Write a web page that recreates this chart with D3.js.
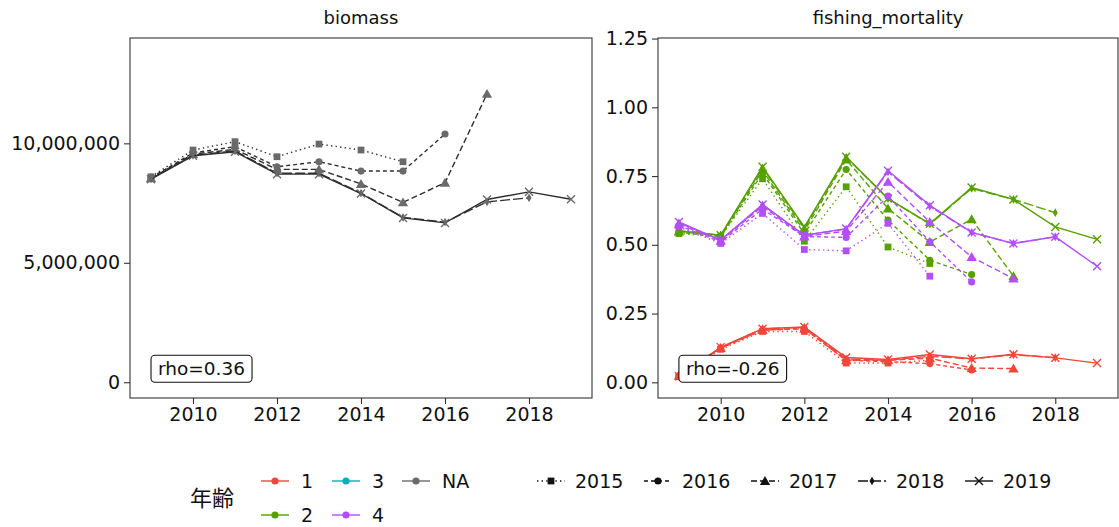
<!DOCTYPE html>
<html>
<head>
<meta charset="utf-8">
<script src="https://cdn.jsdelivr.net/npm/d3@7"></script>
<style>
  html, body { margin: 0; padding: 0; background: #fff; }
  svg text { font-family: "DejaVu Sans", sans-serif; fill: #111; }
</style>
</head>
<body>
<svg id="chart" width="1119" height="527"></svg>
<script>
// ---- data -------------------------------------------------------------
const years = [2009, 2010, 2011, 2012, 2013, 2014, 2015, 2016, 2017, 2018, 2019];
const terminalYears = [2015, 2016, 2017, 2018, 2019];
const ageLevels = ["1", "2", "3", "4", "NA"];
const panelTitles = ["biomass", "fishing_mortality"];
const xTicks = [2010, 2012, 2014, 2016, 2018];
const biomassTicks = [0, 5000000, 10000000];
const fTicks = [0, 0.25, 0.5, 0.75, 1.0, 1.25];
const rhoLabels = ["rho=0.36", "rho=-0.26"];

// biomass by terminal year (starting 2009)
const biomass2015 = [8600000, 9720000, 10070000, 9440000, 9970000, 9720000, 9230000];
const biomass2016 = [8560000, 9600000, 9860000, 9020000, 9230000, 8840000, 8840000, 10390000];
const biomass2017 = [8540000, 9550000, 9750000, 8910000, 8910000, 8300000, 7530000, 8350000, 12070000];
const biomass2018 = [8510000, 9500000, 9680000, 8750000, 8750000, 7920000, 6900000, 6700000, 7550000, 7720000];
const biomass2019 = [8500000, 9480000, 9650000, 8710000, 8710000, 7900000, 6880000, 6670000, 7650000, 7970000, 7660000];

// fishing mortality, age 1
const fAge1_2015 = [0.020, 0.120, 0.185, 0.185, 0.070, 0.070, 0.080];
const fAge1_2016 = [0.025, 0.125, 0.190, 0.195, 0.080, 0.075, 0.068, 0.045];
const fAge1_2017 = [0.025, 0.125, 0.190, 0.195, 0.080, 0.080, 0.088, 0.052, 0.050];
const fAge1_2018 = [0.025, 0.125, 0.195, 0.200, 0.085, 0.080, 0.095, 0.085, 0.100, 0.090];
const fAge1_2019 = [0.022, 0.128, 0.195, 0.201, 0.090, 0.083, 0.101, 0.086, 0.102, 0.089, 0.070];

// fishing mortality, age 2
const fAge2_2015 = [0.541, 0.530, 0.740, 0.513, 0.711, 0.492, 0.432];
const fAge2_2016 = [0.545, 0.530, 0.760, 0.540, 0.774, 0.590, 0.444, 0.392];
const fAge2_2017 = [0.548, 0.533, 0.770, 0.550, 0.810, 0.632, 0.510, 0.593, 0.386];
const fAge2_2018 = [0.550, 0.535, 0.780, 0.560, 0.818, 0.668, 0.575, 0.705, 0.665, 0.617];
const fAge2_2019 = [0.551, 0.535, 0.784, 0.565, 0.820, 0.668, 0.577, 0.708, 0.665, 0.565, 0.520];

// fishing mortality, age 3 (no estimates)
const fAge3_2015 = [];
const fAge3_2016 = [];
const fAge3_2017 = [];
const fAge3_2018 = [];
const fAge3_2019 = [];

// fishing mortality, age 4
const fAge4_2015 = [0.565, 0.505, 0.614, 0.483, 0.478, 0.578, 0.386];
const fAge4_2016 = [0.570, 0.510, 0.630, 0.530, 0.527, 0.677, 0.511, 0.365];
const fAge4_2017 = [0.575, 0.515, 0.640, 0.530, 0.550, 0.729, 0.583, 0.456, 0.377];
const fAge4_2018 = [0.580, 0.517, 0.645, 0.535, 0.557, 0.765, 0.640, 0.545, 0.505, 0.529];
const fAge4_2019 = [0.583, 0.517, 0.647, 0.535, 0.559, 0.769, 0.644, 0.545, 0.505, 0.529, 0.422];

// ---- styling ------------------------------------------------------------
const ageColor = { "1": "#f3463b", "2": "#56a000", "3": "#00b3b9", "4": "#b34efb", "NA": "#6a6a6a" };
const biomassLine = "#2e2e2e";
const dashFor = { 2015: "1.4,3.2", 2016: "4,3", 2017: "6,3", 2018: "10,3", 2019: null };
const shapeFor = { 2015: "square", 2016: "circle", 2017: "triangle", 2018: "diamond", 2019: "cross" };
const tickFont = 19;

const svg = d3.select("#chart");

const panels = [
  { title: panelTitles[0], left: 130, right: 592, top: 38, bottom: 398,
    yDomain: [-660000, 14410000], yTicks: biomassTicks, fmt: d3.format(","), rho: rhoLabels[0] },
  { title: panelTitles[1], left: 658, right: 1118, top: 38, bottom: 398,
    yDomain: [-0.057, 1.252], yTicks: fTicks, fmt: d3.format(".2f"), rho: rhoLabels[1] }
];

function drawShape(g, shape, cx, cy, color) {
  if (shape === "cross") {
    const r = 4;
    g.append("path")
      .attr("d", `M${cx - r},${cy - r}L${cx + r},${cy + r}M${cx - r},${cy + r}L${cx + r},${cy - r}`)
      .attr("stroke", color).attr("stroke-width", 1.4).attr("fill", "none");
    return;
  }
  const typ = { square: d3.symbolSquare, circle: d3.symbolCircle, triangle: d3.symbolTriangle, diamond: d3.symbolDiamond }[shape];
  const size = { square: 46, circle: 40, triangle: 46, diamond: 22 }[shape];
  g.append("path")
    .attr("d", d3.symbol().type(typ).size(size)())
    .attr("transform", `translate(${cx},${cy + (shape === "triangle" ? 1 : 0)})`)
    .attr("fill", color);
}

function drawSeries(g, x, y, values, ty, color, lineColor) {
  const pts = values.map((v, i) => ({ yr: years[i], v }));
  if (!pts.length) return;
  const line = d3.line().x(d => x(d.yr)).y(d => y(d.v));
  const p = g.append("path").datum(pts).attr("d", line)
    .attr("fill", "none").attr("stroke", lineColor).attr("stroke-width", 1.4);
  if (dashFor[ty]) p.attr("stroke-dasharray", dashFor[ty]);
  pts.forEach(d => drawShape(g, shapeFor[ty], x(d.yr), y(d.v), color));
}

panels.forEach((pn, pi) => {
  const x = d3.scaleLinear().domain([2008.5, 2019.5]).range([pn.left, pn.right]);
  const y = d3.scaleLinear().domain(pn.yDomain).range([pn.bottom, pn.top]);
  const g = svg.append("g");

  // strip title
  g.append("text").attr("x", (pn.left + pn.right) / 2).attr("y", 24)
    .attr("text-anchor", "middle").attr("font-size", 18).text(pn.title);

  // axes
  const yAxis = d3.axisLeft(y).tickValues(pn.yTicks).tickFormat(pn.fmt).tickSize(6).tickPadding(4);
  const xAxis = d3.axisBottom(x).tickValues(xTicks).tickFormat(d3.format("d")).tickSize(6).tickPadding(4);
  const ya = g.append("g").attr("transform", `translate(${pn.left},0)`).call(yAxis);
  const xa = g.append("g").attr("transform", `translate(0,${pn.bottom})`).call(xAxis);
  [ya, xa].forEach(a => {
    a.select(".domain").remove();
    a.selectAll("line").attr("stroke", "#333").attr("stroke-width", 1.1);
    a.selectAll("text").attr("font-size", tickFont).attr("fill", "#111")
      .style("font-family", "'DejaVu Sans', sans-serif");
  });

  // data
  const dg = g.append("g");
  if (pi === 0) {
    const sets = [biomass2015, biomass2016, biomass2017, biomass2018, biomass2019];
    sets.forEach((vals, k) => drawSeries(dg, x, y, vals, terminalYears[k], ageColor.NA, biomassLine));
  } else {
    const byAge = {
      "1": [fAge1_2015, fAge1_2016, fAge1_2017, fAge1_2018, fAge1_2019],
      "2": [fAge2_2015, fAge2_2016, fAge2_2017, fAge2_2018, fAge2_2019],
      "3": [fAge3_2015, fAge3_2016, fAge3_2017, fAge3_2018, fAge3_2019],
      "4": [fAge4_2015, fAge4_2016, fAge4_2017, fAge4_2018, fAge4_2019]
    };
    ["1", "2", "3", "4"].forEach(a => {
      byAge[a].forEach((vals, k) => drawSeries(dg, x, y, vals, terminalYears[k], ageColor[a], ageColor[a]));
    });
  }

  // panel border
  g.append("rect").attr("x", pn.left).attr("y", pn.top)
    .attr("width", pn.right - pn.left).attr("height", pn.bottom - pn.top)
    .attr("fill", "none").attr("stroke", "#333").attr("stroke-width", 1.1);

  // rho label anchored at (2009, 0)
  const lx = x(2009), ly = y(0);
  const lg = g.append("g");
  const t = lg.append("text").attr("font-size", 18.5).attr("x", lx + 7).attr("y", ly - 7).text(pn.rho);
  const bb = t.node().getBBox();
  lg.insert("rect", "text").attr("x", lx).attr("y", bb.y - 3)
    .attr("width", bb.width + 14).attr("height", ly - (bb.y - 3))
    .attr("rx", 4).attr("fill", "#fff").attr("stroke", "#111").attr("stroke-width", 1.1);
});

// ---- legends ----------------------------------------------------------
const lgd = svg.append("g");
lgd.append("text").attr("x", 190).attr("y", 506).attr("font-size", 22)
  .style("font-family", "'Noto Sans CJK JP', sans-serif").text("年齢");

const ageKeyPos = [
  { a: "1", x: 261, y: 481 }, { a: "2", x: 261, y: 515 },
  { a: "3", x: 332, y: 481 }, { a: "4", x: 332, y: 515 },
  { a: "NA", x: 402, y: 481 }
];
ageKeyPos.forEach(k => {
  lgd.append("line").attr("x1", k.x).attr("x2", k.x + 28).attr("y1", k.y).attr("y2", k.y)
    .attr("stroke", ageColor[k.a]).attr("stroke-width", 1.4);
  lgd.append("circle").attr("cx", k.x + 14).attr("cy", k.y).attr("r", 3.6).attr("fill", ageColor[k.a]);
  lgd.append("text").attr("x", k.x + 40).attr("y", k.y + 7).attr("font-size", tickFont).text(k.a);
});

terminalYears.forEach((ty, i) => {
  const kx = 537 + i * 107, ky = 481;
  const ln = lgd.append("line").attr("x1", kx).attr("x2", kx + 28).attr("y1", ky).attr("y2", ky)
    .attr("stroke", "#111").attr("stroke-width", 1.4);
  if (dashFor[ty]) ln.attr("stroke-dasharray", dashFor[ty]);
  drawShape(lgd, shapeFor[ty], kx + 14, ky, "#111");
  lgd.append("text").attr("x", kx + 38).attr("y", ky + 7).attr("font-size", tickFont).text(String(ty));
});
</script>
</body>
</html>
